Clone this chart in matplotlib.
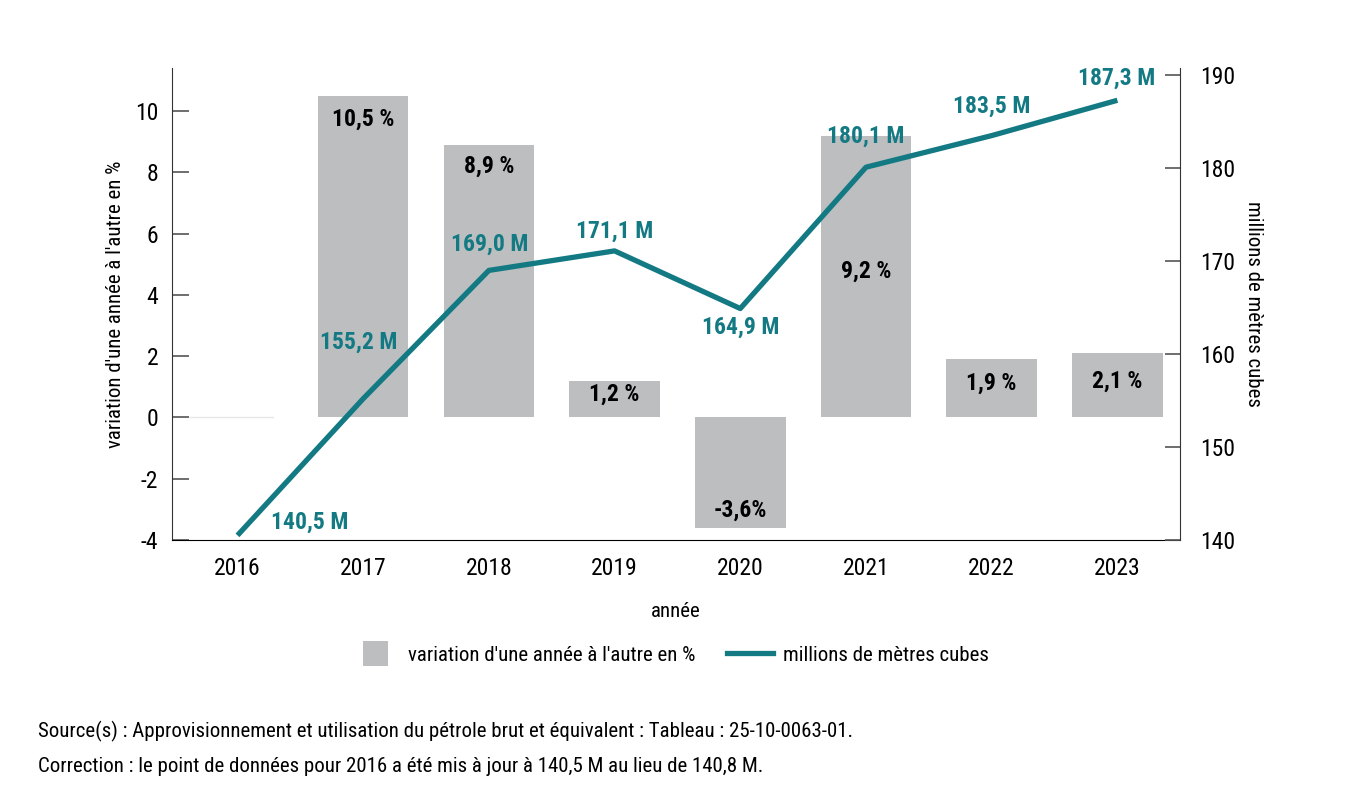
import matplotlib.pyplot as plt
from matplotlib import font_manager
from matplotlib.lines import Line2D

# pick the narrowest family that is installed
installed = {f.name for f in font_manager.fontManager.ttflist}
candidates = ['Roboto Condensed', 'Liberation Sans Narrow', 'Open Sans Condensed', 'Liberation Sans']
base = next((c for c in candidates if c in installed), 'DejaVu Sans')
narrow = base != 'Liberation Sans'
plt.rcParams['font.family'] = [base, 'DejaVu Sans']
fs_tick = 17 if narrow else 15.5
fs_text = 15 if narrow else 13.5

# Data
years = ['2016', '2017', '2018', '2019', '2020', '2021', '2022', '2023']
pct_change = [0, 10.5, 8.9, 1.2, -3.6, 9.2, 1.9, 2.1]
pct_labels = ['', '10,5 %', '8,9 %', '1,2 %', '-3,6%', '9,2 %', '1,9 %', '2,1 %']
volume = [140.5, 155.2, 169.0, 171.1, 164.9, 180.1, 183.5, 187.3]
volume_labels = ['140,5 M', '155,2 M', '169,0 M', '171,1 M', '164,9 M', '180,1 M', '183,5 M', '187,3 M']

bar_color = '#bcbec0'
line_color = '#137a84'

# label offsets in pixels, relative to the bar end / line point
bar_off = [(0, 0), (0, -23), (0, -21), (0, -14), (0, 18), (0, -136), (0, -24), (0, -28)]
line_off = [(72, 13), (-4, 56), (1, 26), (0, 20), (0, -19), (0, 31), (0, 29), (-1, 22)]

fig = plt.figure(figsize=(13.66, 7.93), dpi=100)
ax = fig.add_axes([0.126, 0.319, 0.738, 0.595])
ax2 = ax.twinx()

x = range(len(years))
ax.bar(x, pct_change, width=0.72, color=bar_color, zorder=1)
ax.plot([-0.38, 0.28], [0, 0], color='#e6e6e6', lw=1, zorder=1)

ax.set_xlim(-0.52, 7.5)
ax.set_ylim(-4, 11.4)
ax2.set_ylim(140, 190.75)

ax.set_yticks(range(-4, 11, 2))
ax.set_yticklabels([str(v) for v in range(-4, 11, 2)])
ax.set_xticks(list(x))
ax.set_xticklabels(years)
ax2.set_yticks(range(140, 191, 10))

ax.tick_params(axis='y', direction='in', length=12, width=1.2, color='#555555',
               labelsize=fs_tick, pad=10)
ax.tick_params(axis='x', length=0, labelsize=fs_tick, pad=12)
ax2.tick_params(axis='y', direction='in', length=11, width=1.2, color='#555555',
                labelsize=fs_tick, pad=14)

for a in (ax, ax2):
    a.spines['top'].set_visible(False)
ax.spines['right'].set_visible(False)
ax2.spines['left'].set_visible(False)
ax2.spines['bottom'].set_visible(False)
ax.spines['left'].set_color('#333333')
ax2.spines['right'].set_color('#333333')
ax.spines['bottom'].set_color('black')

ax.set_ylabel("variation d'une année à l'autre en %", fontsize=fs_text, labelpad=7)
ax2.set_ylabel('millions de mètres cubes', fontsize=fs_text, rotation=270, labelpad=20)
ax.set_xlabel('année', fontsize=fs_text, labelpad=16)

ax2.plot(x, volume, color=line_color, lw=3.8, solid_capstyle='butt', zorder=3)

for i, (v, lab) in enumerate(zip(pct_change, pct_labels)):
    if lab:
        ax.annotate(lab, (i, v), xytext=bar_off[i], textcoords='offset pixels',
                    ha='center', va='center', fontsize=fs_tick, fontweight='bold', color='black')

for i, (v, lab) in enumerate(zip(volume, volume_labels)):
    ax2.annotate(lab, (i, v), xytext=line_off[i], textcoords='offset pixels',
                 ha='center', va='center', fontsize=fs_tick, fontweight='bold', color=line_color)

ax.set_zorder(ax2.get_zorder() - 1)
ax.patch.set_visible(False)
ax2.patch.set_visible(False)

handles = [Line2D([0], [0], linestyle='none', marker='s', markersize=18,
                  markerfacecolor=bar_color, markeredgewidth=0,
                  label="variation d'une année à l'autre en %"),
           Line2D([0], [0], color=line_color, lw=3.8, label='millions de mètres cubes')]
fig.legend(handles=handles, loc='center', bbox_to_anchor=(0.491, 0.174), ncol=2,
           frameon=False, fontsize=fs_text, handlelength=2.2,
           columnspacing=1.5, handletextpad=0.5)

fig.text(0.028, 0.077, "Source(s) : Approvisionnement et utilisation du pétrole brut et équivalent : Tableau : 25-10-0063-01.",
         fontsize=fs_text, va='center')
fig.text(0.028, 0.034, "Correction : le point de données pour 2016 a été mis à jour à 140,5 M au lieu de 140,8 M.",
         fontsize=fs_text, va='center')

fig.savefig('out.png', dpi=100)
